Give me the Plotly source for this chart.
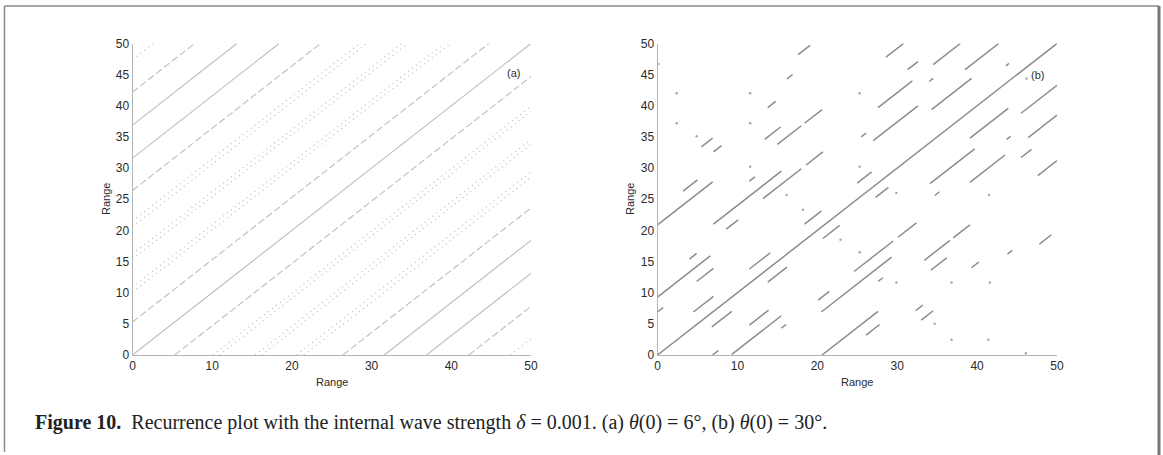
import plotly.graph_objects as go

# ---------------- data ----------------
AXIS_MAX = 50
x_ticks = [0, 10, 20, 30, 40, 50]
y_ticks = [0, 5, 10, 15, 20, 25, 30, 35, 40, 45, 50]

# Panel (a): recurrence diagonals, offset = y - x
a_solid_offsets = [0, 31.6, -31.6, 36.9, -36.9]
a_dashed_offsets = [5.3, -5.3, 26.4, -26.4, 42.2, -42.2]
a_dotted_offsets = [10.1, 10.9, 15.4, 16.2, 20.6, 21.5, 47.4,
                    -10.1, -10.9, -15.4, -16.2, -20.6, -21.5, -47.4]

# Panel (b): diagonal segments (start x, end x, offset y - x)
b_x_start = [0, 0, 3.2, 5.5, 7.0, 13.4, 15.0, 18.4, 13.8, 16.2, 17.6, 7.0, 13.2, 18.6,
             11.5, 25.5, 25.0, 28.6, 31.3, 34.5, 38.5, 43.6, 34.0, 27.6, 34.3, 27.0,
             39.1, 43.7, 45.5, 46.4, 45.5, 47.6, 39.1, 34.1, 34.7, 27.3, 8.6, 4.0,
             0, 4.9, 0, 4.5, 6.8, 6.9, 9.3, 11.5, 15.5, 11.5, 13.8, 18.4, 20.7,
             20.1, 24.6, 30.1, 20.5, 27.6, 33.4, 37.0, 34.2, 39.3, 43.8, 47.8,
             20.6, 26.1, 32.3, 33.0]
b_x_end = [50, 6.9, 5.0, 6.9, 8.0, 15.4, 18.0, 20.6, 14.8, 16.9, 19.1, 15.5, 18.0, 20.7,
           12.2, 26.1, 26.8, 31.2, 32.6, 38.0, 42.9, 44.0, 34.5, 31.9, 39.3, 32.6,
           43.9, 44.2, 50, 50, 46.8, 50, 43.5, 39.7, 35.3, 28.9, 10.1, 4.9,
           6.6, 7.0, 0.7, 7.0, 9.3, 7.6, 15.5, 13.9, 16.1, 14.1, 16.2, 20.5, 22.8,
           21.5, 29.5, 32.4, 29.3, 28.2, 36.6, 39.1, 36.2, 40.2, 44.4, 49.3,
           27.6, 27.8, 33.2, 34.5]
b_offset = [0, 20.9, 23.1, 27.9, 25.6, 21.2, 18.8, 18.8, 25.9, 28.1, 30.6, 14.0, 11.9, 11.9,
            16.4, 9.5, 2.6, 19.2, 14.5, 12.1, 7.3, 2.8, 9.9, 12.1, 5.1, 7.4,
            -4.3, -9.1, -6.7, -11.5, -13.8, -18.8, -11.4, -6.6, -9.1, -2.0, 11.6, 11.4,
            9.3, 6.9, 6.9, 2.4, -2.3, -6.9, -9.2, -6.7, -11.2, 2.3, -2.1, 2.6, -2.0,
            -11.3, -11.2, -11.2, -13.6, -15.8, -18.2, -18.2, -20.6, -25.3, -27.6, -30.0,
            -20.6, -22.9, -25.2, -27.4]

# Panel (b): isolated recurrence points
b_dot_x = [2.4, 2.4, 11.6, 11.6, 11.6, 4.9, 0.1, 16.15, 25.3, 25.3, 29.9, 41.5, 46.2,
           18.2, 22.9, 25.3, 29.9, 36.8, 41.6, 34.7, 36.8, 41.4, 46.1]
b_dot_y = [42.0, 37.2, 42.0, 37.2, 30.2, 35.1, 46.7, 25.7, 42.0, 30.2, 26.0, 25.7, 44.4,
           23.3, 18.5, 16.5, 11.65, 11.65, 11.65, 5.0, 2.45, 2.45, 0.3]

caption_html = ("<b>Figure 10.</b>\u00a0\u00a0Recurrence plot with the internal wave strength "
                "<i>δ</i> = 0.001. (a) <i>θ</i>(0) = 6°, (b) <i>θ</i>(0) = 30°.")


def diagonals(offsets, starts=None, ends=None):
    xs, ys = [], []
    for i, c in enumerate(offsets):
        lo = max(0, -c)
        hi = min(AXIS_MAX, AXIS_MAX - c)
        if starts is not None:
            lo = max(lo, starts[i])
            hi = min(hi, ends[i])
        xs += [lo, hi, None]
        ys += [lo + c, hi + c, None]
    return xs, ys


fig = go.Figure()

# ---- panel (a)
A_COLOR = "#bdbdbd"
for offs, dash, w in [(a_dotted_offsets, "1px,4px", 1.3),
                      (a_dashed_offsets, "7px,3px", 1.1),
                      (a_solid_offsets, "solid", 1.1)]:
    xs, ys = diagonals(offs)
    fig.add_trace(go.Scatter(x=xs, y=ys, mode="lines", xaxis="x", yaxis="y",
                             line=dict(color=A_COLOR, width=w, dash=dash),
                             hoverinfo="skip", showlegend=False))

# ---- panel (b)
B_COLOR = "#8c8c8c"
xs, ys = diagonals(b_offset, b_x_start, b_x_end)
fig.add_trace(go.Scatter(x=xs, y=ys, mode="lines", xaxis="x2", yaxis="y2",
                         line=dict(color=B_COLOR, width=1.5),
                         hoverinfo="skip", showlegend=False))
fig.add_trace(go.Scatter(x=b_dot_x, y=b_dot_y, mode="markers", xaxis="x2", yaxis="y2",
                         marker=dict(color="#a8a8a8", size=2.5),
                         hoverinfo="skip", showlegend=False))

W, H = 1163, 455
Y_DOM = [(H - 355) / H, (H - 43.5) / H]
TICKFONT = dict(family="Liberation Sans, Arial, sans-serif", size=12, color="#2a2a2a")
axis_common = dict(range=[0, AXIS_MAX], showgrid=False, zeroline=False, showline=True,
                   linecolor="#b4b4b4", linewidth=1, ticks="", tickfont=TICKFONT,
                   automargin=False)

fig.update_layout(
    width=W, height=H,
    margin=dict(l=0, r=0, t=0, b=0, pad=0),
    paper_bgcolor="white", plot_bgcolor="white",
    xaxis=dict(domain=[132.5 / W, 531 / W], anchor="y", tickvals=x_ticks, **axis_common),
    yaxis=dict(domain=Y_DOM, anchor="x", tickvals=y_ticks, **axis_common),
    xaxis2=dict(domain=[657.5 / W, 1057 / W], anchor="y2", tickvals=x_ticks, **axis_common),
    yaxis2=dict(domain=Y_DOM, anchor="x2", tickvals=y_ticks, **axis_common),
)

LABEL_FONT = dict(family="Liberation Sans, Arial, sans-serif", size=11, color="#2a2a2a")
ann = []
for xc in [(132.5 + 531) / 2, (657.5 + 1057) / 2]:
    ann.append(dict(text="Range", x=xc / W, y=(H - 382) / H, xref="paper", yref="paper",
                    showarrow=False, font=LABEL_FONT, xanchor="center", yanchor="middle"))
for xc in [106, 630]:
    ann.append(dict(text="Range", x=xc / W, y=(H - 199) / H, xref="paper", yref="paper",
                    showarrow=False, font=LABEL_FONT, textangle=-90,
                    xanchor="center", yanchor="middle"))
ann.append(dict(text="(a)", x=47.8, y=45.2, xref="x", yref="y", showarrow=False,
                font=LABEL_FONT, xanchor="center", yanchor="middle"))
ann.append(dict(text="(b)", x=47.6, y=44.9, xref="x2", yref="y2", showarrow=False,
                font=LABEL_FONT, xanchor="center", yanchor="middle"))
ann.append(dict(text=caption_html, x=33 / W, y=(H - 422) / H, xref="paper", yref="paper",
                showarrow=False, xanchor="left", yanchor="middle",
                font=dict(family="Liberation Serif, Times New Roman, serif", size=20,
                          color="#222222")))
fig.update_layout(annotations=ann)

# figure frame
frame = [
    dict(type="line", xref="paper", yref="paper", x0=4.5 / W, x1=1159 / W,
         y0=(H - 6) / H, y1=(H - 6) / H, line=dict(color="#8a8a8a", width=1.5)),
    dict(type="line", xref="paper", yref="paper", x0=4.5 / W, x1=4.5 / W,
         y0=(H - 6) / H, y1=(H - 452) / H, line=dict(color="#8a8a8a", width=1.5)),
    dict(type="line", xref="paper", yref="paper", x0=1159 / W, x1=1159 / W,
         y0=(H - 6) / H, y1=0, line=dict(color="#777777", width=3)),
]
fig.update_layout(shapes=frame)

fig.write_html("out.html",
               config={"displayModeBar": False, "staticPlot": True},
               post_script="document.body.style.margin='0';document.body.style.overflow='hidden';")
